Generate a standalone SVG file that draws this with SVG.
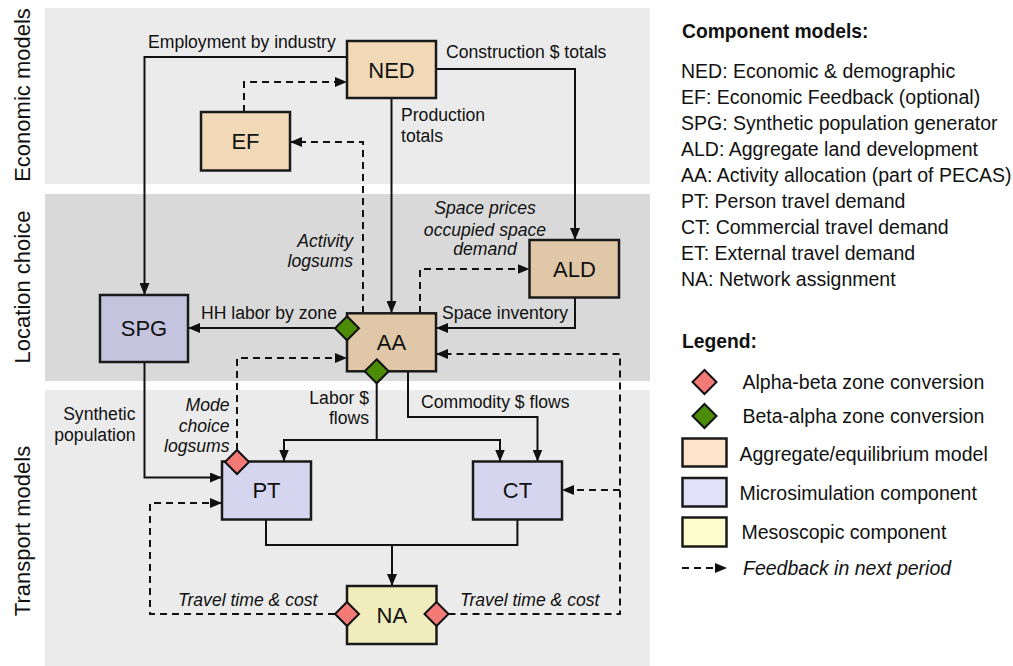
<svg xmlns="http://www.w3.org/2000/svg" width="1013" height="666" viewBox="0 0 1013 666">
<defs>
<marker id="ah" viewBox="0 0 12 10" refX="12" refY="5" markerWidth="12" markerHeight="10" markerUnits="userSpaceOnUse" orient="auto">
<path d="M0,0 L12,5 L0,10 z" fill="#111"/>
</marker>
<style>
.band1{fill:#ebebeb}
.band2{fill:#d9d9d9}
.box{stroke:#1a1a1a;stroke-width:2.5}
.agg1{fill:#f1d9b7}
.agg2{fill:#dfc7a7}
.spg{fill:#c4c4df}
.micro{fill:#d5d5f0}
.meso{fill:#f0ecbc}
.ab{fill:#f47a78;stroke:#111;stroke-width:2}
.ba{fill:#4b8b05;stroke:#111;stroke-width:2}
.ln{fill:none;stroke:#111;stroke-width:2}
.dash{fill:none;stroke:#111;stroke-width:2;stroke-dasharray:7 5}
.arr{marker-end:url(#ah)}
text{font-family:"Liberation Sans",Arial,sans-serif;fill:#111}
.lbl{font-size:17.6px}
.it{font-size:17.6px;font-style:italic}
.node{font-size:22px;text-anchor:middle}
.side{font-size:22px;text-anchor:middle}
.rt{font-size:19.5px}
.hd{font-size:19.3px;font-weight:bold}
</style>
</defs>

<g id="bands">
<rect class="band1" x="45" y="8" width="605" height="176"/>
<rect class="band2" x="45" y="194" width="605" height="187"/>
<rect class="band1" x="45" y="390" width="605" height="276"/>
<text class="side" transform="translate(30,95) rotate(-90)">Economic models</text>
<text class="side" transform="translate(30,287) rotate(-90)">Location choice</text>
<text class="side" transform="translate(30,531) rotate(-90)">Transport models</text>
</g>

<g id="connectors">
<path class="ln arr" d="M347,57 H144.5 V295"/>
<path class="ln arr" d="M436,69 H575 V240"/>
<path class="dash arr" d="M244,112 V82 H347"/>
<path class="dash arr" d="M363,313 V142 H290"/>
<path class="ln arr" d="M391.5,98 V313"/>
<path class="dash arr" d="M420,313 V269 H529.5"/>
<path class="ln arr" d="M575,298 V328 H436"/>
<path class="ln arr" d="M336,328 H188"/>
<path class="dash arr" d="M448.5,614 H620 V354 H436"/>
<path class="dash arr" d="M620,490 H562"/>
<path class="dash arr" d="M237,450 V358 H347"/>
<path class="ln" d="M376.7,383 V440 M284,440 H500"/>
<path class="ln arr" d="M284,439 V461.5"/>
<path class="ln arr" d="M500,439 V461.5"/>
<path class="ln arr" d="M408,371 V417 H537.5 V461.5"/>
<path class="ln arr" d="M144.5,362 V477.5 H222"/>
<path class="dash arr" d="M335,614 H150 V503 H222"/>
<path class="ln" d="M266,519 V545 H517.4 V519"/>
<path class="ln arr" d="M392,545 V586"/>
</g>

<g id="labels">
<text class="lbl" x="148" y="48">Employment by industry</text>
<text class="lbl" x="446" y="58">Construction $ totals</text>
<text class="lbl" x="401" y="121">Production</text>
<text class="lbl" x="401" y="142">totals</text>
<text class="it" x="485" y="214" text-anchor="middle">Space prices</text>
<text class="it" x="485" y="236" text-anchor="middle">occupied space</text>
<text class="it" x="485" y="255" text-anchor="middle">demand</text>
<text class="it" x="353" y="247" text-anchor="end">Activity</text>
<text class="it" x="353" y="267" text-anchor="end">logsums</text>
<text class="lbl" x="201" y="319">HH labor by zone</text>
<text class="lbl" x="442" y="319">Space inventory</text>
<text class="lbl" x="369" y="404" text-anchor="end">Labor $</text>
<text class="lbl" x="369" y="424" text-anchor="end">flows</text>
<text class="lbl" x="421" y="408">Commodity $ flows</text>
<text class="lbl" x="135.5" y="420" text-anchor="end">Synthetic</text>
<text class="lbl" x="135.5" y="441" text-anchor="end">population</text>
<text class="it" x="229.5" y="411" text-anchor="end">Mode</text>
<text class="it" x="229.5" y="432" text-anchor="end">choice</text>
<text class="it" x="229.5" y="452" text-anchor="end">logsums</text>
<text class="it" x="178" y="606">Travel time &amp; cost</text>
<text class="it" x="460" y="606">Travel time &amp; cost</text>
</g>

<g id="NED"><rect class="box agg1" x="347" y="41" width="89" height="57"/><text class="node" x="391.5" y="78">NED</text></g>
<g id="EF"><rect class="box agg1" x="201" y="112" width="89" height="58.5"/><text class="node" x="245.5" y="149">EF</text></g>
<g id="ALD"><rect class="box agg2" x="529.5" y="240" width="89.5" height="57.5"/><text class="node" x="574.5" y="277">ALD</text></g>
<g id="SPG"><rect class="box spg" x="100" y="295" width="88" height="67"/><text class="node" x="144" y="336">SPG</text></g>
<g id="AA"><rect class="box agg2" x="347" y="313.3" width="89" height="58"/><text class="node" x="391.5" y="350">AA</text>
<path class="ba" d="M347,316.3 L359,328.3 L347,340.3 L335,328.3 z"/>
<path class="ba" d="M376.7,359.3 L388.7,371.3 L376.7,383.3 L364.7,371.3 z"/>
</g>
<g id="PT"><rect class="box micro" x="222" y="461.5" width="89" height="58"/><text class="node" x="266.5" y="498">PT</text>
<path class="ab" d="M237,450 L249,462 L237,474 L225,462 z"/>
</g>
<g id="CT"><rect class="box micro" x="473" y="461.5" width="89" height="58"/><text class="node" x="517.5" y="498">CT</text></g>
<g id="NA"><rect class="box meso" x="347" y="586" width="89.5" height="58"/><text class="node" x="391.8" y="623">NA</text>
<path class="ab" d="M347,602 L359,614 L347,626 L335,614 z"/>
<path class="ab" d="M436.5,602 L448.5,614 L436.5,626 L424.5,614 z"/>
</g>

<g id="components">
<text class="hd" x="682" y="38">Component models:</text>
<text class="rt" x="681" y="78">NED: Economic &amp; demographic</text>
<text class="rt" x="681" y="104">EF: Economic Feedback (optional)</text>
<text class="rt" x="681" y="130">SPG: Synthetic population generator</text>
<text class="rt" x="681" y="156">ALD: Aggregate land development</text>
<text class="rt" x="681" y="182">AA: Activity allocation (part of PECAS)</text>
<text class="rt" x="681" y="208">PT: Person travel demand</text>
<text class="rt" x="681" y="234">CT: Commercial travel demand</text>
<text class="rt" x="681" y="260">ET: External travel demand</text>
<text class="rt" x="681" y="286">NA: Network assignment</text>
</g>

<g id="legend">
<text class="hd" x="682" y="348">Legend:</text>
<path class="ab" d="M704.5,370 L716.5,382 L704.5,394 L692.5,382 z"/>
<text class="rt" x="742.5" y="388.5">Alpha-beta zone conversion</text>
<path class="ba" d="M704.5,404 L716.5,416 L704.5,428 L692.5,416 z"/>
<text class="rt" x="742.5" y="422.5">Beta-alpha zone conversion</text>
<rect class="box" fill="#fee4c8" x="682.5" y="438.5" width="44" height="28"/>
<text class="rt" x="739.5" y="460.5">Aggregate/equilibrium model</text>
<rect class="box" fill="#e1e1f9" x="682.5" y="478" width="44" height="28.5"/>
<text class="rt" x="739.5" y="499.5">Microsimulation component</text>
<rect class="box" fill="#fefdcc" x="682.5" y="517.5" width="44" height="29"/>
<text class="rt" x="741.5" y="538.5">Mesoscopic component</text>
<path class="dash arr" d="M682,568 H727"/>
<text class="rt" x="743" y="574.5" font-style="italic">Feedback in next period</text>
</g>
</svg>
